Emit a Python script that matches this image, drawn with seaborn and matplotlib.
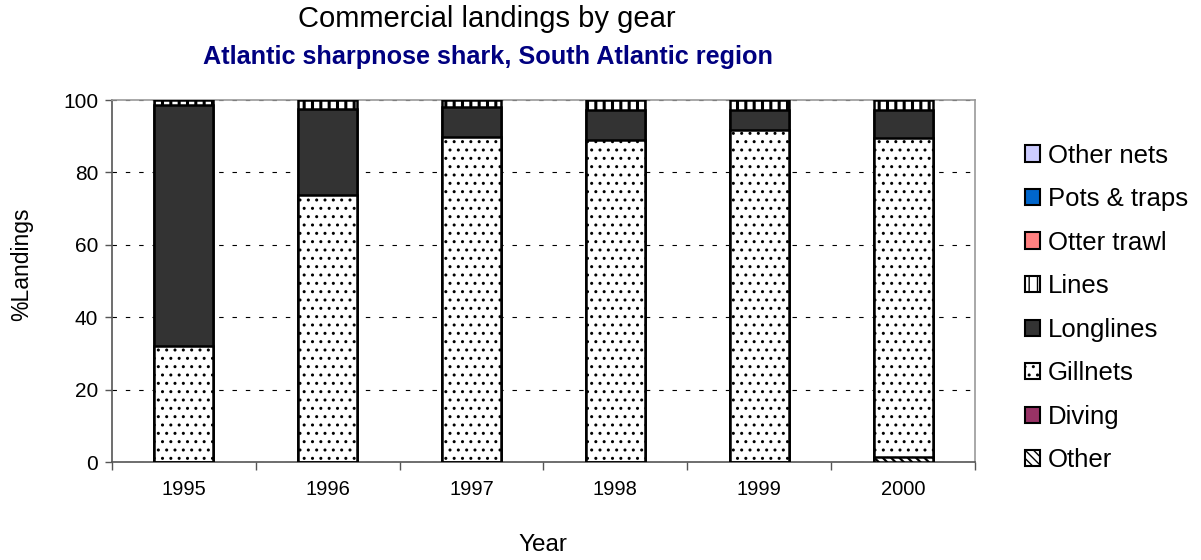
import matplotlib
matplotlib.use("Agg")
import matplotlib.pyplot as plt
from matplotlib.patches import Patch
import seaborn as sns
import pandas as pd
import numpy as np

years = ["1995", "1996", "1997", "1998", "1999", "2000"]
other = [0.0, 0.0, 0.0, 0.0, 0.0, 1.5]
diving = [0.0, 0.0, 0.0, 0.0, 0.0, 0.0]
gillnets = [32.0, 73.8, 89.8, 89.0, 91.7, 88.0]
longlines = [66.6, 23.7, 8.2, 8.2, 5.5, 7.7]
lines = [1.4, 2.5, 2.0, 2.8, 2.8, 2.8]
otter_trawl = [0.0, 0.0, 0.0, 0.0, 0.0, 0.0]
pots_traps = [0.0, 0.0, 0.0, 0.0, 0.0, 0.0]
other_nets = [0.0, 0.0, 0.0, 0.0, 0.0, 0.0]

series_names = ["Other", "Diving", "Gillnets", "Longlines", "Lines",
                "Otter trawl", "Pots & traps", "Other nets"]
series_vals = [other, diving, gillnets, longlines, lines,
               otter_trawl, pots_traps, other_nets]
styles = {
    "Other": dict(face="white", hatch="\\\\\\\\", hlw=1.6),
    "Diving": dict(face="#993366", hatch=None, hlw=1.0),
    "Gillnets": dict(face="white", hatch="..", hlw=1.0),
    "Longlines": dict(face="#333333", hatch=None, hlw=1.0),
    "Lines": dict(face="white", hatch="||", hlw=2.2),
    "Otter trawl": dict(face="#FF8080", hatch=None, hlw=1.0),
    "Pots & traps": dict(face="#0066CC", hatch=None, hlw=1.0),
    "Other nets": dict(face="#CCCCFF", hatch=None, hlw=1.0),
}

sns.set_theme(style="white")
plt.rcParams["font.family"] = ["Liberation Sans", "DejaVu Sans"]
plt.rcParams["text.color"] = "black"
plt.rcParams["axes.labelcolor"] = "black"
plt.rcParams["xtick.color"] = "black"
plt.rcParams["ytick.color"] = "black"

fig = plt.figure(figsize=(12.01, 5.6), dpi=100)
ax = fig.add_axes([112 / 1201, 98 / 560, (975 - 112) / 1201, (462 - 100) / 560])

cum = np.cumsum(np.array(series_vals), axis=0)
# draw from top series down so lower segments overlay higher cumulative bars
for i in range(len(series_names) - 1, -1, -1):
    name = series_names[i]
    if np.allclose(series_vals[i], 0):
        continue
    df = pd.DataFrame({"Year": years, "v": cum[i]})
    st = styles[name]
    with plt.rc_context({"hatch.linewidth": st["hlw"]}):
        sns.barplot(data=df, x="Year", y="v", ax=ax, color=st["face"],
                    width=0.41, edgecolor="black", linewidth=1.8,
                    hatch=st["hatch"], saturation=1, zorder=3)

ax.set_ylim(0, 100)
ax.set_xlim(-0.5, 5.5)
ax.set_yticks([0, 20, 40, 60, 80, 100])
ax.yaxis.grid(True, color="black", linestyle=(0, (4, 8)), linewidth=0.8, zorder=1)
ax.xaxis.grid(False)

for s in ["top", "right"]:
    ax.spines[s].set_visible(True)
    ax.spines[s].set_color("#999999")
    ax.spines[s].set_linewidth(1.2)
for s in ["left", "bottom"]:
    ax.spines[s].set_color("#555555")
    ax.spines[s].set_linewidth(1.2)

ax.tick_params(axis="y", which="major", left=True, length=5, width=1,
               color="#555555", labelsize=15, pad=5)
ax.tick_params(axis="x", which="major", bottom=False, length=0, labelsize=14.5, pad=13)
ax.set_xticks(np.arange(-0.5, 6, 1), minor=True)
ax.tick_params(axis="x", which="minor", bottom=True, length=6, width=1, color="#555555")

ax.set_xlabel("Year", fontsize=17.5)
ax.set_ylabel("%Landings", fontsize=16.5)
ax.xaxis.label.set_va("center")
ax.yaxis.label.set_va("center")
ax.xaxis.set_label_coords((543 - 112) / 863, (462 - 545) / 362)
ax.yaxis.set_label_coords((22 - 112) / 863, (462 - 264) / 362)

fig.text(0.405, 1 - 19 / 560, "Commercial landings by gear", ha="center", va="center",
         fontsize=21)
fig.text(0.406, 1 - 57 / 560, "Atlantic sharpnose shark, South Atlantic region",
         ha="center", va="center", fontsize=18.2, fontweight="bold", color="#000080")

handles = []
for name in reversed(series_names):
    st = styles[name]
    with plt.rc_context({"hatch.linewidth": st["hlw"]}):
        handles.append(Patch(facecolor=st["face"], edgecolor="black", linewidth=1.5,
                             hatch=st["hatch"], label=name))
fig.legend(handles=handles, loc="center left", bbox_to_anchor=(1025 / 1201, 1 - 308 / 560),
           frameon=False, fontsize=18.5, handlelength=0.6, handleheight=0.6,
           handletextpad=0.3, labelspacing=0.76, borderaxespad=0, borderpad=0)

fig.savefig("out.png", dpi=100)
